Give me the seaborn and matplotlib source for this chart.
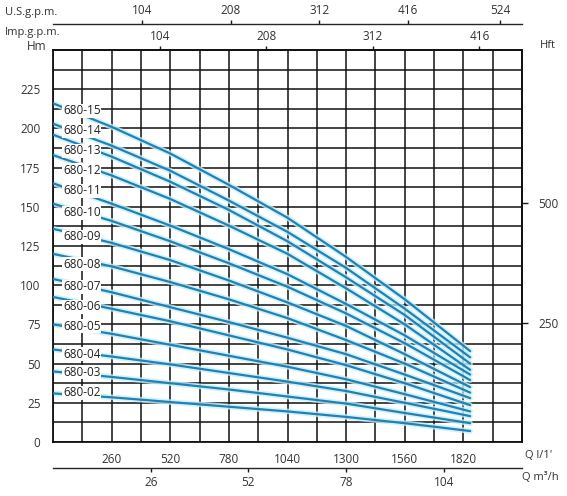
import numpy as np
import pandas as pd
import matplotlib
matplotlib.use("Agg")
import matplotlib.pyplot as plt
import seaborn as sns

# ---- data ----
flow_lpm = [0, 260, 520, 780, 1040, 1300, 1560, 1850]
models = ["680-15", "680-14", "680-13", "680-12", "680-11", "680-10", "680-09",
          "680-08", "680-07", "680-06", "680-05", "680-04", "680-03", "680-02"]
head_680_15 = [216, 201, 184, 164, 143, 118, 91, 58]
head_680_14 = [203, 189, 173, 154, 134, 111, 85, 54]
head_680_13 = [196, 182, 166, 148, 128, 105, 81, 50]
head_680_12 = [183, 170, 155, 138, 120, 98, 75, 46]
head_680_11 = [165, 152, 138, 123, 107, 88, 68, 43]
head_680_10 = [152, 141, 128, 114, 99, 82, 63, 39.5]
head_680_09 = [136, 127, 116, 103, 89, 74, 56, 35]
head_680_08 = [120, 112, 102, 91, 79, 65, 50, 31.5]
head_680_07 = [104, 95.5, 86, 76.5, 66.5, 56, 43, 28]
head_680_06 = [92.5, 85, 77, 68, 59, 49, 37.5, 23.5]
head_680_05 = [75, 69, 62, 55, 48, 40, 30.5, 19.5]
head_680_04 = [59, 54.5, 49.5, 44, 38.5, 32.5, 25, 16.5]
head_680_03 = [45, 41.5, 37.5, 33.5, 29, 24.5, 18.5, 12]
head_680_02 = [31, 28.5, 25.5, 22.5, 19.5, 16, 12, 7]

heads = [head_680_15, head_680_14, head_680_13, head_680_12, head_680_11,
         head_680_10, head_680_09, head_680_08, head_680_07, head_680_06,
         head_680_05, head_680_04, head_680_03, head_680_02]

hm_ticks = [0, 25, 50, 75, 100, 125, 150, 175, 200, 225]
lpm_ticks = [260, 520, 780, 1040, 1300, 1560, 1820]
m3h_ticks = [26, 52, 78, 104]
usgpm_ticks = [104, 208, 312, 416, 524]
impgpm_ticks = [104, 208, 312, 416]
hft_ticks = [250, 500]

rows = []
for m, h in zip(models, heads):
    for q, v in zip(flow_lpm, h):
        rows.append({"model": m, "Q": q, "H": v})
df = pd.DataFrame(rows)

# ---- style ----
sns.set_theme(style="white")
plt.rcParams["font.family"] = ["Open Sans", "DejaVu Sans"]
txt = "#333333"
line_col = "#2380b2"
halo_col = "#c4f0fc"

W, H = 567, 496
fig = plt.figure(figsize=(W / 100, H / 100), dpi=100)
x0, x1, ytop, ybot = 53, 522, 50, 442
ax = fig.add_axes([x0 / W, 1 - ybot / H, (x1 - x0) / W, (ybot - ytop) / H])

ax.set_xlim(0, 2080)
ax.set_ylim(0, 250)

# grid
ax.set_xticks(np.arange(0, 2081, 130), minor=True)
ax.set_yticks(np.arange(0, 250.1, 12.5), minor=True)
ax.set_xticks(lpm_ticks)
ax.set_yticks(hm_ticks)
ax.grid(True, which="both", color="#111111", lw=1.1)
ax.set_axisbelow(True)
for s in ax.spines.values():
    s.set_color("#111111")
    s.set_linewidth(1.3)
ax.tick_params(axis="both", which="both", length=0, labelsize=8.5, labelcolor=txt)
ax.tick_params(axis="x", pad=8)
ax.tick_params(axis="y", pad=9)

# curves
sns.lineplot(data=df, x="Q", y="H", hue="model", palette=[halo_col] * len(models),
             legend=False, ax=ax, lw=4.0, alpha=0.8, zorder=2)
sns.lineplot(data=df, x="Q", y="H", hue="model", palette=[line_col] * len(models),
             legend=False, ax=ax, lw=1.6, zorder=3)
ax.set_xlabel("")
ax.set_ylabel("")

# curve labels (placed at the pixel rows used in the reference)
label_q = 128
label_px = [111, 131, 151, 170, 191, 213, 237, 264, 287, 307, 326, 354, 372, 393]
for m, py in zip(models, label_px):
    yv = (ybot - py) / (ybot - ytop) * 250
    ax.text(label_q, yv, m, ha="center", va="center", fontsize=8.5, color="#222222",
            zorder=5, bbox=dict(boxstyle="square,pad=0.06", fc="white", ec="none"))

# secondary axes
m3h = 1000 / 60
usg = 3.78541
impg = 4.54609
ft = 0.3048

sec_m3 = ax.secondary_xaxis(-(468 - ybot) / (ybot - ytop),
                            functions=(lambda q: q / m3h, lambda v: v * m3h))
sec_m3.set_xticks(m3h_ticks)
sec_m3.tick_params(length=3, width=1, colors="#1a1a1a", labelsize=8.5, labelcolor=txt, pad=3)
sec_m3.spines["bottom"].set_linewidth(1.0)

sec_imp = ax.secondary_xaxis("top", functions=(lambda q: q / impg, lambda v: v * impg))
sec_imp.set_xticks(impgpm_ticks)
sec_imp.tick_params(length=3, width=1, colors="#1a1a1a", labelsize=8.5, labelcolor=txt, pad=2)

sec_us = ax.secondary_xaxis(1 + (ytop - 24) / (ybot - ytop),
                            functions=(lambda q: q / usg, lambda v: v * usg))
sec_us.set_xticks(usgpm_ticks)
sec_us.tick_params(length=3, width=1, colors="#1a1a1a", labelsize=8.5, labelcolor=txt, pad=2)
sec_us.spines["top"].set_linewidth(1.0)

sec_ft = ax.secondary_yaxis("right", functions=(lambda m: m / ft, lambda f: f * ft))
sec_ft.set_yticks(hft_ticks)
sec_ft.tick_params(length=4, width=1, colors="#1a1a1a", labelsize=8.5, labelcolor=txt, pad=8)

# axis titles
def ftext(px, py, s, ha="left"):
    fig.text(px / W, 1 - py / H, s, ha=ha, va="center", fontsize=8, color=txt)

ftext(5, 13, "U.S.g.p.m.")
ftext(5, 32, "Imp.g.p.m.")
fig.text(37 / W, 1 - 47 / H, "Hm", ha="center", va="center", fontsize=8.5, color=txt)
ftext(540, 46, "Hft")
ftext(525, 455, "Q l/1'")
ftext(522, 478, "Q m³/h")

fig.savefig("out.png", dpi=100)
